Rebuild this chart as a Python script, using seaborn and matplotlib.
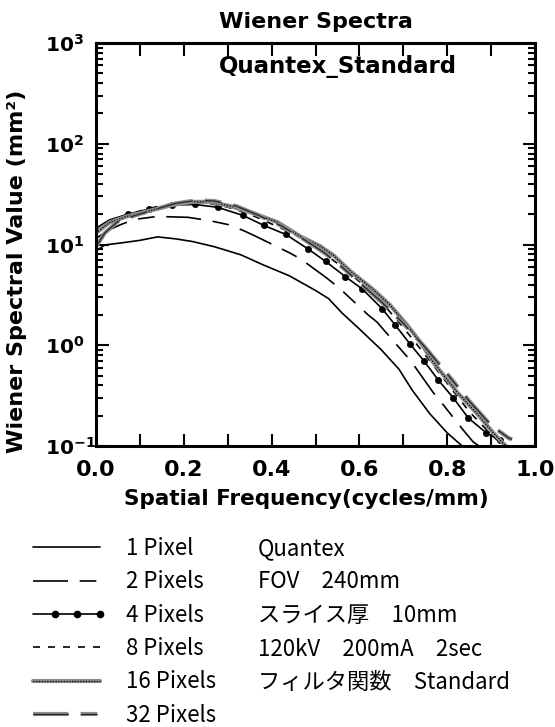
import numpy as np
import pandas as pd
import matplotlib
matplotlib.use("Agg")
import matplotlib.pyplot as plt
import seaborn as sns
from matplotlib.lines import Line2D
from matplotlib.legend_handler import HandlerTuple, HandlerLine2D
from matplotlib.ticker import FixedLocator, FixedFormatter, MultipleLocator, LogLocator, NullFormatter

# ---------------- data ----------------
title = "Wiener Spectra"
inner_title = "Quantex_Standard"
x_label = "Spatial Frequency(cycles/mm)"
y_label = "Wiener Spectral Value (mm²)"

x_ticks = [0.0, 0.2, 0.4, 0.6, 0.8, 1.0]
x_tick_labels = ["0.0", "0.2", "0.4", "0.6", "0.8", "1.0"]
y_ticks = [0.1, 1, 10, 100, 1000]
y_tick_labels = [r"$\mathbf{10^{-1}}$", r"$\mathbf{10^{0}}$", r"$\mathbf{10^{1}}$",
                 r"$\mathbf{10^{2}}$", r"$\mathbf{10^{3}}$"]

freq_1 = [0.0, 0.02, 0.06, 0.10, 0.14, 0.18, 0.22, 0.27, 0.33, 0.38, 0.44, 0.50,
          0.53, 0.56, 0.60, 0.65, 0.69, 0.72, 0.76, 0.80, 0.84, 0.86]
val_1 = [8.6, 9.9, 10.4, 11.0, 11.9, 11.4, 10.7, 9.5, 7.9, 6.3, 4.9, 3.5,
         2.9, 2.1, 1.45, 0.90, 0.58, 0.36, 0.21, 0.135, 0.095, 0.08]

freq_2 = [0.0, 0.03, 0.06, 0.09, 0.14, 0.21, 0.26, 0.30, 0.335, 0.36, 0.44, 0.466,
          0.527, 0.557, 0.62, 0.64, 0.70, 0.716, 0.768, 0.784, 0.836, 0.859, 0.914]
val_2 = [11.5, 14.0, 16.0, 17.8, 19.0, 18.6, 17.2, 15.8, 13.8, 12.3, 8.3, 7.2,
         4.6, 3.6, 2.0, 1.7, 0.85, 0.71, 0.34, 0.28, 0.145, 0.11, 0.075]

freq_4 = [0.0, 0.03, 0.073, 0.12, 0.172, 0.225, 0.277, 0.334, 0.382, 0.432, 0.482,
          0.523, 0.568, 0.607, 0.652, 0.682, 0.716, 0.748, 0.78, 0.814, 0.848,
          0.889, 0.92, 0.95]
val_4 = [14.5, 17.5, 20.0, 22.4, 24.5, 25.0, 23.4, 19.5, 15.5, 12.6, 9.1,
         6.8, 4.8, 3.6, 2.3, 1.58, 1.02, 0.69, 0.45, 0.30, 0.19,
         0.135, 0.115, 0.09]

freq_8 = [0.0, 0.04, 0.10, 0.15, 0.20, 0.25, 0.30, 0.35, 0.40, 0.45, 0.50, 0.55,
          0.60, 0.65, 0.70, 0.75, 0.80, 0.85, 0.90, 0.94]
val_8 = [13.5, 18.0, 21.5, 24.5, 26.0, 26.0, 23.5, 20.0, 16.0, 12.8, 9.3, 6.5,
         4.3, 2.7, 1.5, 0.80, 0.42, 0.22, 0.13, 0.09]

freq_16 = [0.0, 0.03, 0.07, 0.12, 0.17, 0.22, 0.26, 0.307, 0.359, 0.414, 0.466,
           0.511, 0.541, 0.58, 0.632, 0.67, 0.709, 0.739, 0.768, 0.823, 0.868,
           0.905, 0.943, 0.96]
val_16 = [13.0, 16.5, 19.0, 21.5, 24.5, 26.5, 26.5, 24.0, 20.4, 16.6, 12.0,
          9.6, 7.8, 5.4, 3.55, 2.5, 1.58, 1.07, 0.68, 0.34, 0.21,
          0.135, 0.09, 0.085]

freq_32 = [0.0, 0.02, 0.05, 0.09, 0.13, 0.18, 0.23, 0.27, 0.32, 0.37, 0.42, 0.47,
           0.52, 0.56, 0.60, 0.65, 0.70, 0.75, 0.80, 0.85, 0.90, 0.94, 0.97]
val_32 = [9.5, 13.0, 17.0, 19.5, 22.0, 25.5, 27.5, 27.0, 24.0, 19.5, 15.5, 11.5,
          8.3, 6.0, 4.2, 2.7, 1.65, 0.95, 0.52, 0.28, 0.16, 0.12, 0.105]

series_labels = ["1 Pixel", "2 Pixels", "4 Pixels", "8 Pixels", "16 Pixels", "32 Pixels"]
info_lines = ["Quantex", "FOV\u3000240mm", "スライス厚\u300010mm",
              "120kV\u3000200mA\u30002sec", "フィルタ関数\u3000Standard"]

# ---------------- build long-form table ----------------
frames = []
for lab, fx, fy in zip(series_labels,
                       [freq_1, freq_2, freq_4, freq_8, freq_16, freq_32],
                       [val_1, val_2, val_4, val_8, val_16, val_32]):
    frames.append(pd.DataFrame({"freq": fx, "value": fy, "series": lab}))
df = pd.concat(frames, ignore_index=True)

# ---------------- styles ----------------
sns.set_theme(style="ticks", rc={
    "axes.edgecolor": "black", "text.color": "black", "xtick.color": "black",
    "ytick.color": "black", "axes.labelcolor": "black",
})
plt.rcParams["font.family"] = ["DejaVu Sans"]
plt.rcParams["mathtext.fontset"] = "dejavusans"

LW = 1.2
dash_2 = (0, (21, 7, 10, 7))
dash_8 = (0, (4.2, 4.8))
gray_lw = 3.0
dash_32_base = (0, (8.5, 2.9, 4.0, 2.9))
dash_32_core = (0, (8.5 * gray_lw / 0.9, 2.9 * gray_lw / 0.9, 4.0 * gray_lw / 0.9, 2.9 * gray_lw / 0.9))
dot_core = (0, (1.0, 1.2))
gray = "#8c8c8c"

fig = plt.figure(figsize=(5.55, 7.27), dpi=100)
W, H = 555.0, 727.0
ax_l, ax_r, ax_t, ax_b = 96, 535, 43, 446
ax = fig.add_axes([ax_l / W, 1 - ax_b / H, (ax_r - ax_l) / W, (ax_b - ax_t) / H])
ax.set_yscale("log")

def sub(lab):
    return df[df["series"] == lab]

sns.lineplot(data=sub("1 Pixel"), x="freq", y="value", ax=ax, color="black", lw=LW)
sns.lineplot(data=sub("2 Pixels"), x="freq", y="value", ax=ax, color="black", lw=LW,
             linestyle=dash_2)
n4 = len(freq_4)
sns.lineplot(data=sub("4 Pixels"), x="freq", y="value", ax=ax, color="black", lw=LW,
             marker="o", markersize=4.5, mec="black", mfc="black", mew=0.5,
             markevery=list(range(2, n4 - 1)))
sns.lineplot(data=sub("8 Pixels"), x="freq", y="value", ax=ax, color="black", lw=LW,
             linestyle=dash_8)
sns.lineplot(data=sub("16 Pixels"), x="freq", y="value", ax=ax, color=gray, lw=gray_lw)
sns.lineplot(data=sub("16 Pixels"), x="freq", y="value", ax=ax, color="black", lw=0.9,
             linestyle=dot_core)
sns.lineplot(data=sub("32 Pixels"), x="freq", y="value", ax=ax, color=gray, lw=gray_lw,
             linestyle=dash_32_base)
sns.lineplot(data=sub("32 Pixels"), x="freq", y="value", ax=ax, color="#222222", lw=0.9,
             linestyle=dash_32_core)

ax.set_xlim(0.0, 1.0)
ax.set_ylim(0.1, 1000)

for s in ax.spines.values():
    s.set_linewidth(2.2)
    s.set_visible(True)

ax.xaxis.set_major_locator(FixedLocator(x_ticks))
ax.xaxis.set_major_formatter(FixedFormatter(x_tick_labels))
ax.xaxis.set_minor_locator(MultipleLocator(0.1))
ax.xaxis.set_minor_formatter(NullFormatter())
ax.yaxis.set_major_locator(FixedLocator(y_ticks))
ax.yaxis.set_major_formatter(FixedFormatter(y_tick_labels))
ax.yaxis.set_minor_locator(LogLocator(base=10, subs=np.arange(2, 10), numticks=20))
ax.yaxis.set_minor_formatter(NullFormatter())

ax.tick_params(which="both", direction="in", top=True, right=True, width=1.5)
ax.tick_params(axis="x", which="both", length=9, pad=10)
ax.tick_params(axis="y", which="major", length=9, pad=36.5)
ax.tick_params(axis="y", which="minor", length=5)
for lbl in ax.get_xticklabels():
    lbl.set_fontsize(16)
    lbl.set_fontweight("bold")
for lbl in ax.get_yticklabels():
    lbl.set_fontsize(14.5)
    lbl.set_ha("left")

ax.set_title(title, fontsize=16, fontweight="bold", pad=11)
ax.set_xlabel(x_label, fontsize=15.5, fontweight="bold")
ax.set_ylabel(y_label, fontsize=16, fontweight="bold")
ax.xaxis.set_label_coords((306 - ax_l) / (ax_r - ax_l), (ax_b - 489) / (ax_b - ax_t))
ax.yaxis.set_label_coords((27 - ax_l) / (ax_r - ax_l), (ax_b - 271) / (ax_b - ax_t))
ax.text((338 - ax_l) / (ax_r - ax_l), (ax_b - 67) / (ax_b - ax_t), inner_title,
        transform=ax.transAxes, ha="center", va="center", fontsize=16.5, fontweight="bold")

# ---------------- legend below the plot ----------------
class DotHandler(HandlerLine2D):
    def create_artists(self, *args, **kwargs):
        arts = super().create_artists(*args, **kwargs)
        arts[0].set_markevery([1, 2, 3])
        return arts

h1 = Line2D([], [], color="black", lw=LW)
h2 = Line2D([], [], color="black", lw=LW, linestyle=dash_2)
h4 = Line2D([], [], color="black", lw=LW, marker="o", ms=4.5, mfc="black", mec="black")
h8 = Line2D([], [], color="black", lw=LW, linestyle=dash_8)
h16 = (Line2D([], [], color=gray, lw=gray_lw),
       Line2D([], [], color="black", lw=0.9, linestyle=dot_core))
h32 = (Line2D([], [], color=gray, lw=gray_lw, linestyle=dash_32_base),
       Line2D([], [], color="#222222", lw=0.9, linestyle=dash_32_core))

leg_font = ["Noto Sans CJK JP", "DejaVu Sans"]
leg = fig.legend([h1, h2, h4, h8, h16, h32], series_labels,
                 loc="upper left", bbox_to_anchor=(33 / W, 1 - 537 / H),
                 frameon=False, prop={"family": leg_font, "size": 16},
                 handlelength=3.0, handletextpad=1.2, labelspacing=0.465,
                 borderpad=0, borderaxespad=0,
                 handler_map={h4: DotHandler(marker_pad=0, numpoints=4),
                              tuple: HandlerTuple(ndivide=1, pad=0)})

row_y = [548.5, 582, 615.5, 649, 682.5]
for txt, yy in zip(info_lines, row_y):
    fig.text(258 / W, 1 - yy / H, txt, ha="left", va="center",
             fontsize=16, family=leg_font)

fig.savefig("out.png", dpi=100)
